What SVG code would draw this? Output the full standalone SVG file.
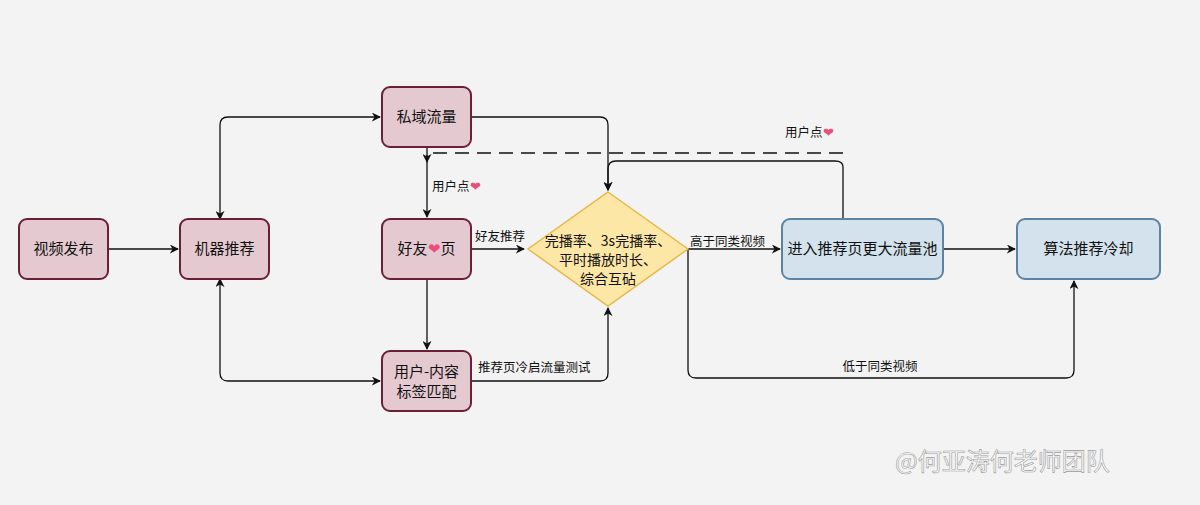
<svg xmlns="http://www.w3.org/2000/svg" width="1200" height="505" viewBox="0 0 1200 505">
<style>
text{font-family:"Noto Sans CJK SC","Liberation Sans",sans-serif;fill:#111}
.p rect{fill:#e5c9d0;stroke:#6b1f36;stroke-width:2}
.b rect{fill:#d3e2ec;stroke:#5b84a3;stroke-width:2}
.n{font-size:15px;text-anchor:middle}
.d{font-size:14px;text-anchor:middle}
.l{font-size:12.5px}
.c path{fill:none;stroke:#111;stroke-width:1.3}
.h{fill:#e8507a}
</style>
<defs>
<marker id="a" viewBox="0 0 10 10" refX="9" refY="5" markerWidth="9" markerHeight="9" orient="auto-start-reverse" markerUnits="userSpaceOnUse"><path d="M0,0 L10,5 L0,10 L3,5z" fill="#111"/></marker>
</defs>
<rect width="1200" height="505" fill="#f3f3f3"/>
<g class="c">
<path d="M108,249 H178" marker-end="url(#a)"/>
<path d="M220,219 V125 Q220,117 228,117 H380" marker-start="url(#a)" marker-end="url(#a)"/>
<path d="M220,279 V373 Q220,381 228,381 H380" marker-start="url(#a)" marker-end="url(#a)"/>
<path d="M471,117 H600 Q608,117 608,125 V190" marker-end="url(#a)"/>
<path d="M427,147 V217" marker-end="url(#a)"/>
<path d="M843,153 H427 V162" stroke-dasharray="14,8" marker-end="url(#a)"/>
<path d="M843,219 V167 Q843,161 835,161 H616 Q608,161 608,169 V190" marker-end="url(#a)"/>
<path d="M471,249 H524" marker-end="url(#a)"/>
<path d="M427,279 V349" marker-end="url(#a)"/>
<path d="M471,381 H600 Q608,381 608,373 V308" marker-end="url(#a)"/>
<path d="M688,249 H780" marker-end="url(#a)"/>
<path d="M688,249 V370 Q688,378 696,378 H1066 Q1074,378 1074,370 V281" marker-end="url(#a)"/>
<path d="M943,249 H1015" marker-end="url(#a)"/>
</g>
<g id="n1" class="p"><rect x="19" y="219" width="89" height="60" rx="8"/><text class="n" x="63.5" y="254">视频发布</text></g>
<g id="n2" class="p"><rect x="180" y="219" width="89" height="60" rx="8"/><text class="n" x="224.5" y="254">机器推荐</text></g>
<g id="n3" class="p"><rect x="382" y="87" width="89" height="60" rx="8"/><text class="n" x="426.5" y="122">私域流量</text></g>
<g id="n4" class="p"><rect x="382" y="219" width="89" height="60" rx="8"/><text class="n" x="426.5" y="254">好友<tspan class="h">❤</tspan>页</text></g>
<g id="n5" class="p"><rect x="382" y="351" width="89" height="60" rx="8"/><text class="n" x="426.5" y="377">用户-内容</text><text class="n" x="426.5" y="397">标签匹配</text></g>
<g id="n6"><path d="M608,192 L688,249 L608,306 L528,249z" fill="#fde7a6" stroke="#e7b84a" stroke-width="1.5"/><text class="d" x="608" y="246">完播率、3s完播率、</text><text class="d" x="608" y="265">平时播放时长、</text><text class="d" x="608" y="284">综合互砧</text></g>
<g id="n7" class="b"><rect x="782" y="219" width="161" height="60" rx="8"/><text class="n" x="862.5" y="254">进入推荐页更大流量池</text></g>
<g id="n8" class="b"><rect x="1017" y="219" width="143" height="60" rx="8"/><text class="n" x="1088.5" y="254">算法推荐冷却</text></g>
<g id="labels">
<text class="l" x="432" y="191">用户点<tspan class="h">❤</tspan></text>
<text class="l" x="785" y="137">用户点<tspan class="h">❤</tspan></text>
<text class="l" x="475" y="241">好友推荐</text>
<text class="l" x="478" y="372">推荐页冷启流量测试</text>
<text class="l" x="690" y="246">高于同类视频</text>
<text class="l" x="880" y="371" text-anchor="middle">低于同类视频</text>
</g>
<text x="895" y="470" style="font-size:24px;fill:#fff;stroke:#999;stroke-width:0.6">@何亚涛何老师团队</text>
</svg>
